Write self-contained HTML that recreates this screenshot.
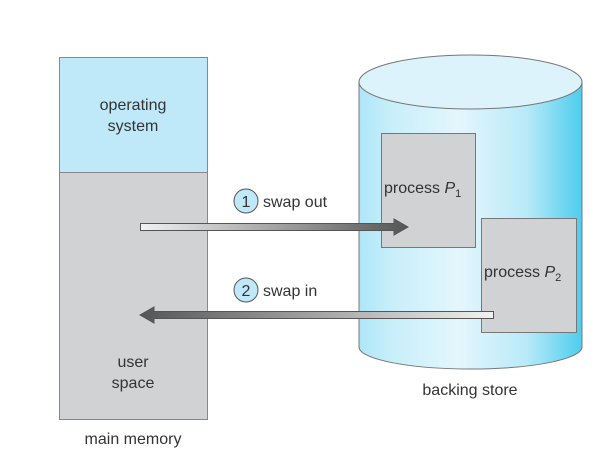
<!DOCTYPE html>
<html><head><style>
html,body{margin:0;padding:0;background:#fff;}
svg text{font-family:"Liberation Sans",sans-serif;fill:#333;}
</style></head><body>
<svg width="616" height="455" viewBox="0 0 616 455" xmlns="http://www.w3.org/2000/svg">
<defs>
<linearGradient id="cyl" x1="0" x2="1" y1="0" y2="0">
<stop offset="0" stop-color="#aee6f7"/>
<stop offset="0.15" stop-color="#c8effa"/>
<stop offset="0.45" stop-color="#e4f6fc"/>
<stop offset="0.75" stop-color="#b9eaf8"/>
<stop offset="1" stop-color="#4dcdef"/>
</linearGradient>
<linearGradient id="a1" x1="0" x2="1"><stop offset="0" stop-color="#f2f2f2"/><stop offset="1" stop-color="#555"/></linearGradient>
<linearGradient id="a2" x1="1" x2="0"><stop offset="0" stop-color="#f2f2f2"/><stop offset="1" stop-color="#555"/></linearGradient>
</defs>
<rect x="59.5" y="57.5" width="148" height="362" fill="#d1d2d4" stroke="#888"/>
<rect x="59.5" y="57.5" width="148" height="115" fill="#bfe9f8" stroke="#888"/>
<text x="133" y="110" font-size="16" text-anchor="middle">operating</text>
<text x="133" y="131" font-size="16" text-anchor="middle">system</text>
<text x="133" y="367" font-size="16" text-anchor="middle">user</text>
<text x="133" y="388" font-size="16" text-anchor="middle">space</text>
<text x="133" y="444" font-size="16" text-anchor="middle">main memory</text>
<path d="M359,82 L359,347 A111.5,22 0 0 0 582,347 L582,82 Z" fill="url(#cyl)" stroke="#777"/>
<ellipse cx="470.5" cy="82" rx="111.5" ry="27" fill="#dcf3fb" stroke="#777"/>
<text x="470" y="395" font-size="16" text-anchor="middle">backing store</text>
<rect x="381.5" y="133.5" width="94" height="114" fill="#d1d2d4" stroke="#777"/>
<text x="384" y="193" font-size="16">process <tspan font-style="italic">P</tspan><tspan font-size="11" dy="4">1</tspan></text>
<rect x="481.5" y="218.5" width="95" height="114" fill="#d1d2d4" stroke="#777"/>
<text x="484" y="277" font-size="16">process <tspan font-style="italic">P</tspan><tspan font-size="11" dy="4">2</tspan></text>
<path d="M140.5,223.5 L394,223.5 L394,219 L408,227 L394,235 L394,230.5 L140.5,230.5 Z" fill="url(#a1)" stroke="#555"/>
<path d="M493.5,311.5 L154,311.5 L154,307 L140,315 L154,323 L154,318.5 L493.5,318.5 Z" fill="url(#a2)" stroke="#555"/>
<circle cx="246" cy="201" r="12" fill="#bfe9f8" stroke="#555"/>
<text x="246" y="207" font-size="16" text-anchor="middle">1</text>
<text x="263" y="207" font-size="16">swap out</text>
<circle cx="246" cy="290" r="12" fill="#bfe9f8" stroke="#555"/>
<text x="246" y="296" font-size="16" text-anchor="middle">2</text>
<text x="263" y="296" font-size="16">swap in</text>
</svg>
</body></html>
